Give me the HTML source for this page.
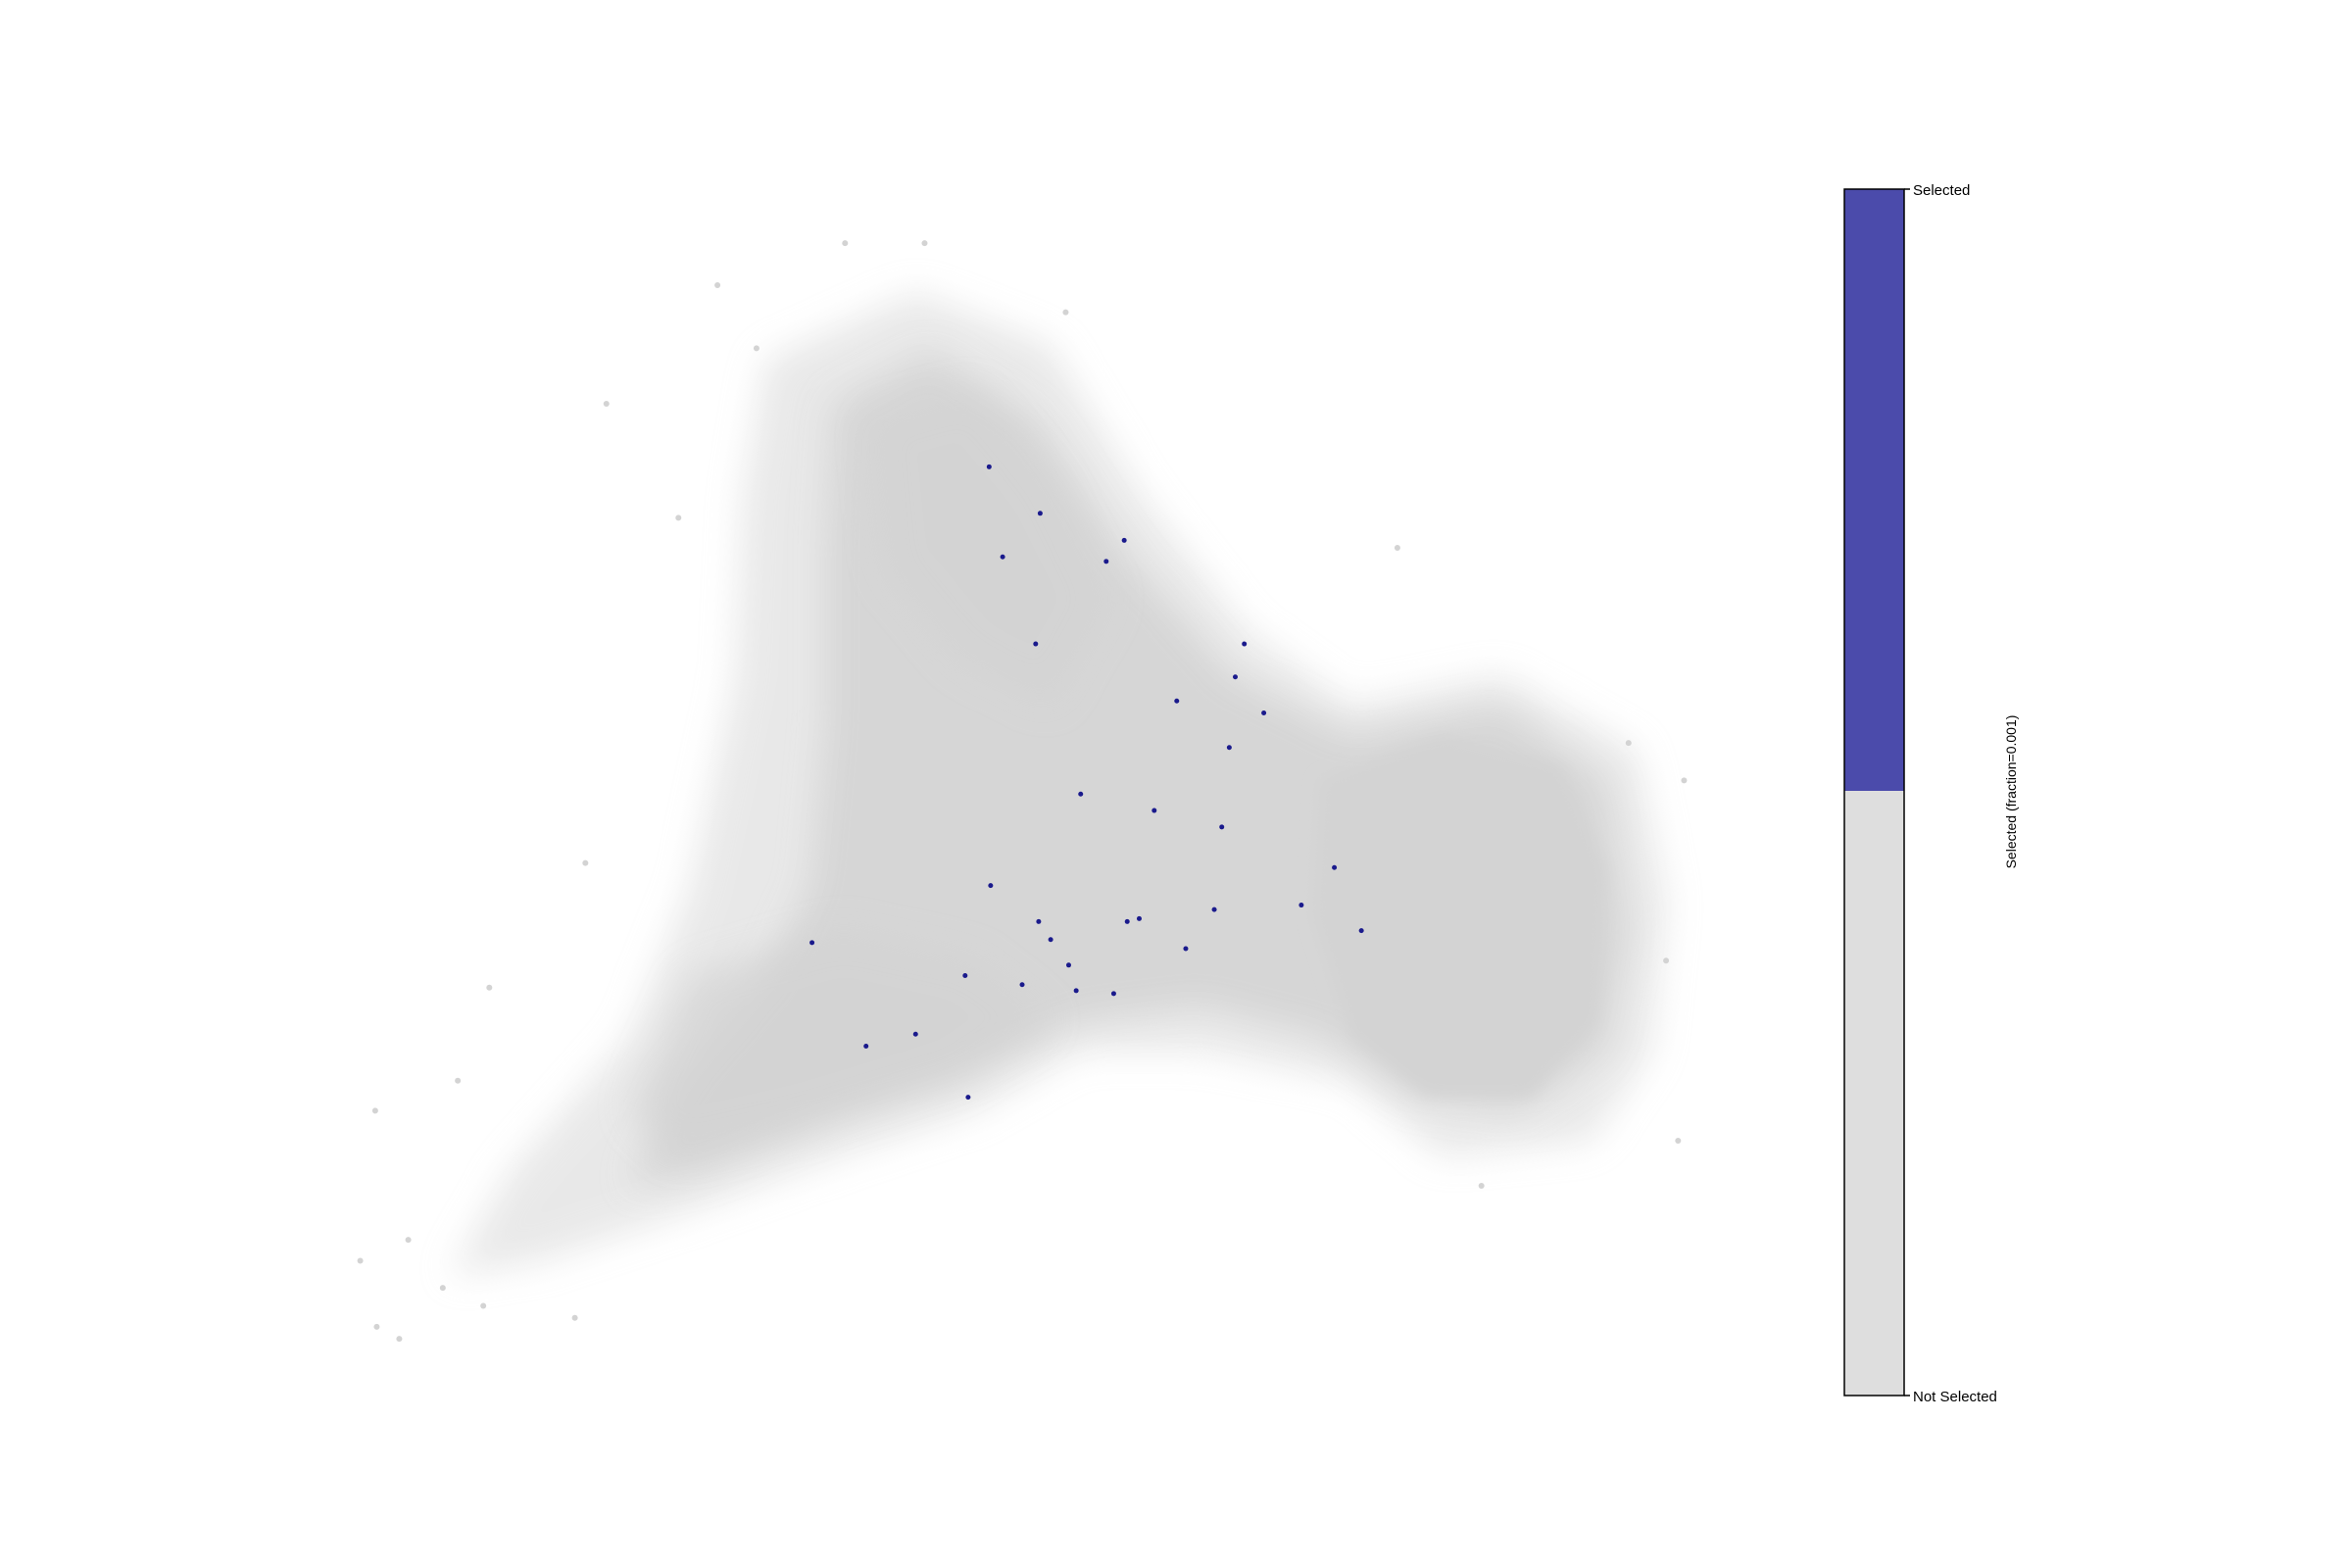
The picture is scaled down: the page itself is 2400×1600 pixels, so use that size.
<!DOCTYPE html>
<html><head><meta charset="utf-8"><style>
html,body{margin:0;padding:0;background:#fff;}
svg{display:block;font-family:"Liberation Sans","DejaVu Sans",sans-serif;}
</style></head><body>
<svg id="chart" width="2400" height="1600" viewBox="0 0 2400 1600" xmlns="http://www.w3.org/2000/svg">
<defs>
<filter id="blur1" x="-30%" y="-30%" width="160%" height="160%"><feGaussianBlur stdDeviation="18"/></filter>
<filter id="blur2" x="-30%" y="-30%" width="160%" height="160%"><feGaussianBlur stdDeviation="8"/></filter>
</defs>
<g id="cloud"></g>
<g id="outliers"></g>
<g id="selected"></g>
<g>
<rect x="1882" y="193" width="61" height="614" fill="#4b4bab"/>
<rect x="1882" y="807" width="61" height="617" fill="#dedede"/>
<rect x="1882" y="193" width="61" height="1231" fill="none" stroke="#000" stroke-width="1.5"/>
<line x1="1943" y1="193" x2="1949" y2="193" stroke="#000" stroke-width="1.5"/>
<line x1="1943" y1="1424" x2="1949" y2="1424" stroke="#000" stroke-width="1.5"/>
<text x="1952" y="199" font-size="15">Selected</text>
<text x="1952" y="1430" font-size="15">Not Selected</text>
<text transform="translate(2057,808) rotate(-90)" text-anchor="middle" font-size="14">Selected (fraction=0.001)</text>
</g>
</svg>
<script>
// selected points (displayed-image data units)
const selX=[659,693,668,737,749,690,829,823,784,842,819,720,769,814,660,809,759,751,692,867,907,541,700,790,712,643,681,717,742,610,577,645,889];
const selY=[311,342,371,374,360,429,429,451,467,475,498,529,540,551,590,606,612,614,614,603,620,628,626,632,643,650,656,660,662,689,697,731,578];
const outX=[240,251,266,250,272,295,305,326,404,478,563,616,1122,1118,987,710,390,322,383,1110,1085,931,452,504];
const outY=[840,884,892,740,826,858,720,658,269,190,162,162,520,760,790,208,575,870,878,640,495,365,345,232];
const S=2400/1567;
function xs(v){return v*S;}
function ys(v){return v*S;}
const NS="http://www.w3.org/2000/svg";
// density cloud shapes (regions, not data marks)
const regions=[
 {pts:"510,240 610,195 700,230 760,330 830,420 900,470 1000,450 1090,500 1110,600 1100,700 1060,760 960,770 900,720 800,700 720,700 650,740 560,770 450,810 360,840 300,850 340,780 420,690 460,590 490,450 495,330",op:0.5,f:"blur1"},
 {pts:"555,270 620,235 690,280 750,370 820,450 900,490 1000,470 1070,520 1085,620 1070,700 1010,740 940,730 880,690 800,670 720,680 650,710 560,740 470,780 420,790 450,720 510,650 540,590 550,480 550,360",op:0.85,f:"blur1"},
 {pts:"880,520 960,490 1040,510 1070,580 1065,680 1020,730 950,730 900,690 875,610",op:1,f:"blur2"},
 {pts:"580,280 650,260 700,320 740,400 700,470 640,440 590,380",op:0.7,f:"blur1"},
 {pts:"460,650 560,620 650,640 700,680 640,720 540,750 450,770 420,740",op:0.7,f:"blur1"}
];
const cloud=document.getElementById('cloud');
regions.forEach((r,i)=>{
 const p=document.createElementNS(NS,'polygon');
 p.setAttribute('points',r.pts.split(' ').map(s=>{const [a,b]=s.split(',');return xs(+a)+','+ys(+b);}).join(' '));
 p.setAttribute('fill','#d3d3d3');p.setAttribute('opacity',r.op);p.setAttribute('filter','url(#'+r.f+')');
 
 
 cloud.appendChild(p);
});
const og=document.getElementById('outliers');
outX.forEach((x,i)=>{
 const c=document.createElementNS(NS,'circle');
 c.setAttribute('cx',xs(x));c.setAttribute('cy',ys(outY[i]));c.setAttribute('r',3);c.setAttribute('fill','#d3d3d3');
 
 
 og.appendChild(c);
});
const sg=document.getElementById('selected');
selX.forEach((x,i)=>{
 const c=document.createElementNS(NS,'circle');
 c.setAttribute('cx',xs(x));c.setAttribute('cy',ys(selY[i]));c.setAttribute('r',2.5);c.setAttribute('fill','#1a1a8c');
 
 
 sg.appendChild(c);
});
</script>
</body></html>
